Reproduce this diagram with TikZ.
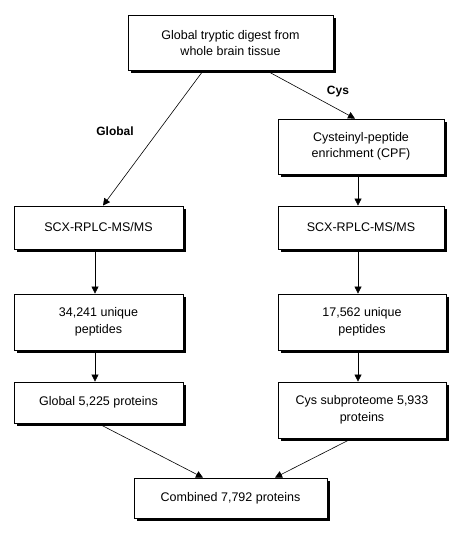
\documentclass[tikz,border=0pt]{standalone}
\usepackage{fontspec}
\setmainfont{Liberation Sans}
\usetikzlibrary{arrows.meta,shadows}
\begin{document}
\begin{tikzpicture}[x=1pt,y=-1pt,
  box/.style={draw=black,line width=0.8pt,fill=white,align=center,font=\fontsize{12.5}{16.5}\selectfont,
    inner sep=0pt,drop shadow={shadow xshift=3pt,shadow yshift=-3pt,fill=black,opacity=1}},
  arr/.style={-{Triangle[length=7pt,width=7pt]},line width=0.6pt},
  lbl/.style={font=\fontsize{12}{14}\selectfont\bfseries}]
\useasboundingbox (0,0) rectangle (464,537);
\node[box,minimum width=205pt,minimum height=55pt] (top) at (230.5,43) {Global tryptic digest from\\whole brain tissue};
\node[box,minimum width=166pt,minimum height=55pt] (cpf) at (361,146.5) {Cysteinyl-peptide\\enrichment (CPF)};
\node[box,minimum width=169pt,minimum height=43pt] (scxl) at (98.5,227.5) {SCX-RPLC-MS/MS};
\node[box,minimum width=166pt,minimum height=43pt] (scxr) at (361,227.5) {SCX-RPLC-MS/MS};
\node[box,minimum width=169pt,minimum height=56pt] (pepl) at (98.5,322) {34,241 unique\\peptides};
\node[box,minimum width=168pt,minimum height=56pt] (pepr) at (362,322) {17,562 unique\\peptides};
\node[box,minimum width=169pt,minimum height=41pt] (protl) at (98.5,402.5) {Global 5,225 proteins};
\node[box,minimum width=168pt,minimum height=56pt] (protr) at (362,410) {Cys subproteome 5,933\\proteins};
\node[box,minimum width=193pt,minimum height=40pt] (comb) at (230.5,498) {Combined 7,792 proteins};
\draw[arr] (top.south -| 203,0) -- (scxl.north -| 103,0);
\draw[arr] (top.south -| 267,0) -- (cpf.north -| 355,0);
\draw[arr] (cpf.south -| 358,0) -- (scxr.north -| 358,0);
\draw[arr] (scxl.south -| 95,0) -- (pepl.north -| 95,0);
\draw[arr] (scxr.south -| 358,0) -- (pepr.north -| 358,0);
\draw[arr] (pepl.south -| 95,0) -- (protl.north -| 95,0);
\draw[arr] (pepr.south -| 358,0) -- (protr.north -| 358,0);
\draw[arr] (protl.south -| 98,0) -- (comb.north -| 203,0);
\draw[arr] (protr.south -| 352,0) -- (comb.north -| 275,0);
\node[lbl] (lglobal) at (115,131) {Global};
\node[lbl] (lcys) at (338,92) {Cys};
\end{tikzpicture}
\end{document}
